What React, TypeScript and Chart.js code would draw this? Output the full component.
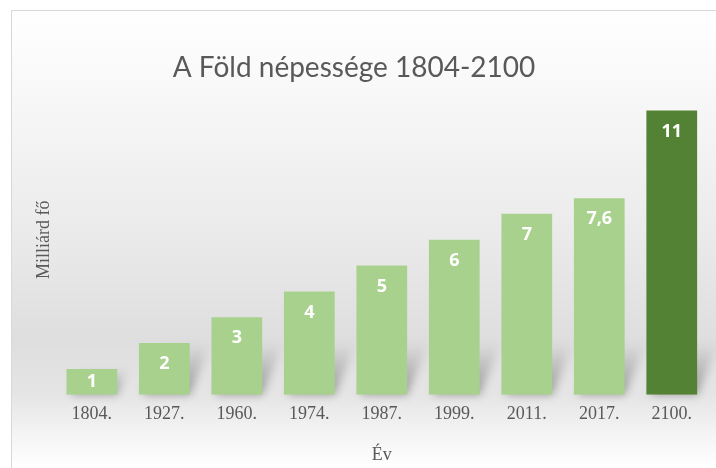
import React, { useEffect, useRef } from "react";
import { Chart, registerables } from "chart.js";

Chart.register(...registerables);

const categories = ["1804.", "1927.", "1960.", "1974.", "1987.", "1999.", "2011.", "2017.", "2100."];
const populations = [1, 2, 3, 4, 5, 6, 7, 7.6, 11];
const barColors = [
  "#a9d18e", "#a9d18e", "#a9d18e", "#a9d18e", "#a9d18e",
  "#a9d18e", "#a9d18e", "#a9d18e", "#548235",
];
const titleText = "A Föld népessége 1804-2100";
const yAxisTitle = "Milliárd fő";
const xAxisTitle = "Év";
const yMax = 12;

const backgroundPlugin = {
  id: "bgPanel",
  beforeDraw(chart: any) {
    const { ctx, width, height } = chart;
    ctx.save();
    ctx.fillStyle = "#ffffff";
    ctx.fillRect(0, 0, width, height);
    const g = ctx.createLinearGradient(0, 10, 0, height);
    g.addColorStop(0, "#ffffff");
    g.addColorStop(0.2, "#f7f7f7");
    g.addColorStop(0.5, "#eaeaea");
    g.addColorStop(0.72, "#dedede");
    g.addColorStop(0.84, "#e5e5e5");
    g.addColorStop(0.92, "#f3f3f3");
    g.addColorStop(1, "#ffffff");
    ctx.fillStyle = g;
    ctx.fillRect(11, 10, width, height);
    ctx.strokeStyle = "#d9d9d9";
    ctx.lineWidth = 1;
    ctx.strokeRect(11.5, 10.5, width, height);
    ctx.restore();
  },
};

const shadowPlugin = {
  id: "barShadow",
  beforeDatasetsDraw(chart: any) {
    const { ctx } = chart;
    const meta = chart.getDatasetMeta(0);
    meta.data.forEach((el: any) => {
      const { x, y, base, width } = el.getProps(["x", "y", "base", "width"], true);
      const L = x - width / 2;
      const R = x + width / 2;
      const h = base - y;
      const S = Math.min(h, 52);
      const dx = S * 0.4;
      ctx.save();
      ctx.filter = "blur(4px)";
      const g = ctx.createLinearGradient(0, base, 0, base - S);
      g.addColorStop(0, "rgba(0,0,0,0.34)");
      g.addColorStop(1, "rgba(0,0,0,0)");
      ctx.fillStyle = g;
      ctx.beginPath();
      ctx.moveTo(L + 4, base);
      ctx.lineTo(R, base);
      ctx.lineTo(R + dx, base - S);
      ctx.lineTo(L + 4 + dx, base - S);
      ctx.closePath();
      ctx.fill();
      ctx.restore();
    });
  },
};

const labelPlugin = {
  id: "barLabels",
  afterDatasetsDraw(chart: any) {
    const { ctx } = chart;
    const meta = chart.getDatasetMeta(0);
    ctx.save();
    ctx.fillStyle = "#ffffff";
    ctx.font = "bold 18px 'Open Sans'";
    ctx.textAlign = "center";
    ctx.textBaseline = "middle";
    meta.data.forEach((el: any, i: number) => {
      const { x, y, base } = el.getProps(["x", "y", "base"], true);
      const ly = Math.min(y + 21, (y + base) / 2);
      ctx.fillText(String(populations[i]).replace(".", ","), x, ly);
    });
    ctx.restore();
  },
};

export default function App() {
  const ref = useRef<HTMLCanvasElement>(null);
  useEffect(() => {
    document.body.style.margin = "0";
    const chart = new Chart(ref.current!, {
      type: "bar",
      data: {
        labels: categories,
        datasets: [
          {
            data: populations,
            backgroundColor: barColors,
            borderWidth: 0,
            barPercentage: 0.7,
            categoryPercentage: 1,
          },
        ],
      },
      options: {
        responsive: false,
        animation: false,
        layout: { padding: { left: 0, right: 8, top: 0, bottom: 2 } },
        plugins: {
          legend: { display: false },
          tooltip: { enabled: false },
          title: {
            display: true,
            text: titleText,
            color: "#595959",
            font: { family: "Lato", size: 28, weight: "normal" },
            padding: { top: 51, bottom: 0 },
          },
        },
        scales: {
          x: {
            grid: { display: false, drawTicks: false },
            border: { display: false },
            ticks: {
              color: "#595959",
              padding: 9,
              font: { family: "'Liberation Serif'", size: 18 },
            },
            title: {
              display: true,
              text: xAxisTitle,
              color: "#595959",
              font: { family: "'Liberation Serif'", size: 18 },
              padding: { top: 10, bottom: 0 },
            },
          },
          y: {
            min: 0,
            max: yMax,
            grid: { display: false, drawTicks: false },
            border: { display: false },
            ticks: { display: false },
            title: {
              display: true,
              text: yAxisTitle,
              color: "#595959",
              font: { family: "'Liberation Serif'", size: 18 },
              padding: { top: 33, bottom: 1 },
            },
          },
        },
      },
      plugins: [backgroundPlugin, shadowPlugin, labelPlugin],
    });
    return () => chart.destroy();
  }, []);
  return (
    <canvas
      ref={ref}
      width={716}
      height={468}
      style={{ position: "fixed", left: 0, top: 0, width: 716, height: 468 }}
    />
  );
}
